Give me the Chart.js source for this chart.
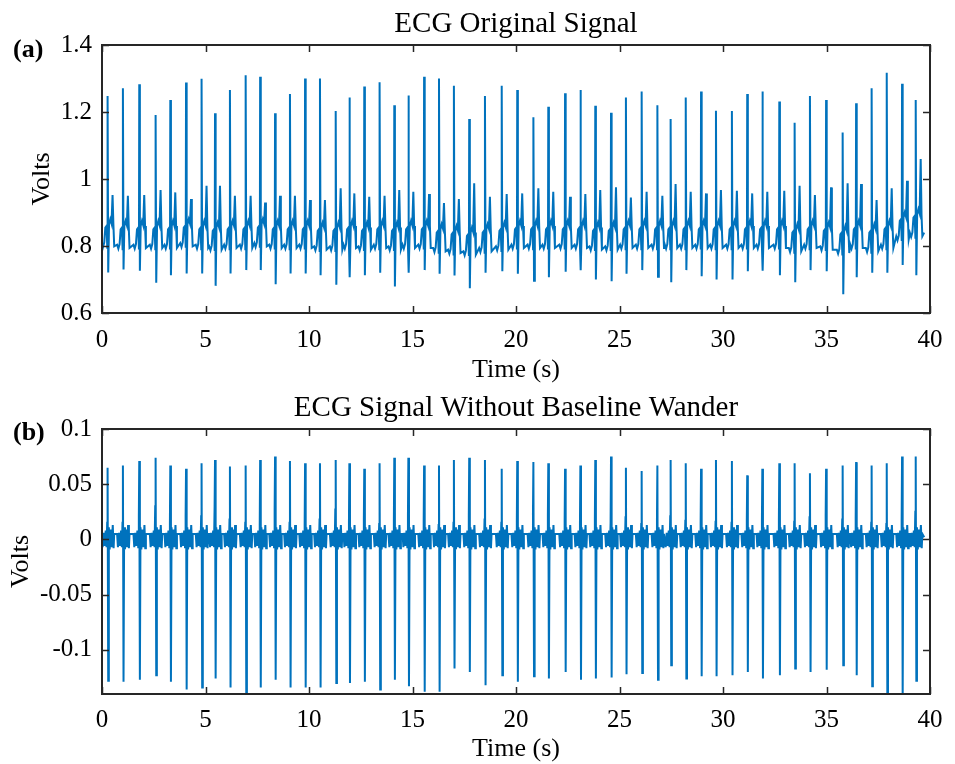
<!DOCTYPE html>
<html lang="en">
<head>
<meta charset="UTF-8">
<title>ECG Original Signal / ECG Signal Without Baseline Wander</title>
<script src="https://cdn.jsdelivr.net/npm/chart.js"></script>
<style>
  body { margin: 0; background: #fff; }
  #wrap { position: relative; width: 955px; height: 764px; font-family: 'Liberation Serif', 'Times New Roman', serif; }
  canvas { position: absolute; left: 0; }
  .panel { position: absolute; left: 13px; font-weight: bold; font-size: 26px; line-height: 30px; color: #000; }
</style>
</head>
<body>
<div id="wrap">
  <canvas id="chartA" width="955" height="385" style="top:0"></canvas>
  <canvas id="chartB" width="955" height="379" style="top:385px"></canvas>
  <div class="panel" style="top:34px">(a)</div>
  <div class="panel" style="top:417px">(b)</div>
</div>
<script>
// R-peak times (s)
const beatTimes = [0.27, 1.01, 1.80, 2.59, 3.30, 4.06, 4.81, 5.46, 6.18, 6.94, 7.64, 8.36, 9.08, 9.81,
  10.53, 11.29, 11.95, 12.67, 13.41, 14.12, 14.80, 15.56, 16.28, 17.00, 17.74, 18.50, 19.31,
  20.06, 20.84, 21.56, 22.37, 23.11, 23.83, 24.59, 25.31, 26.07, 26.83, 27.47, 28.20, 28.94, 29.66,
  30.43, 31.17, 31.90, 32.72, 33.46, 34.20, 34.98, 35.78, 36.43, 37.18, 37.91, 38.65, 39.31];

// (a) original signal, volts
const rPeakA = [1.248, 1.271, 1.283, 1.191, 1.236, 1.288, 1.299, 1.196, 1.266, 1.310, 1.305, 1.196, 1.254, 1.300,
  1.300, 1.203, 1.243, 1.276, 1.289, 1.220, 1.249, 1.305, 1.300, 1.278, 1.179, 1.248, 1.278,
  1.266, 1.184, 1.216, 1.256, 1.266, 1.219, 1.198, 1.243, 1.261, 1.220, 1.179, 1.243, 1.261, 1.204,
  1.203, 1.254, 1.261, 1.231, 1.168, 1.248, 1.236, 1.139, 1.226, 1.271, 1.317, 1.284, 1.236];
const sTroughA = [0.721, 0.730, 0.726, 0.690, 0.713, 0.718, 0.718, 0.681, 0.718, 0.728, 0.728, 0.686, 0.718, 0.718,
  0.713, 0.684, 0.707, 0.713, 0.720, 0.679, 0.720, 0.728, 0.717, 0.712, 0.674, 0.720, 0.725,
  0.717, 0.696, 0.707, 0.723, 0.728, 0.700, 0.695, 0.717, 0.728, 0.708, 0.692, 0.728, 0.710, 0.700,
  0.700, 0.725, 0.726, 0.713, 0.692, 0.728, 0.725, 0.656, 0.707, 0.720, 0.720, 0.743, 0.713];
const tWaveA = [0.952, 0.950, 0.952, 0.967, 0.960, 0.940, 0.980, 0.980, 0.950, 0.950, 0.930, 0.950, 0.950, 0.937,
  0.937, 0.972, 0.957, 0.947, 0.950, 0.967, 0.962, 0.955, 0.928, 0.940, 0.987, 0.947, 0.955,
  0.957, 0.972, 0.962, 0.947, 0.955, 0.967, 0.975, 0.945, 0.962, 0.950, 0.985, 0.962, 0.957, 0.967,
  0.965, 0.957, 0.962, 0.965, 0.980, 0.952, 0.975, 0.987, 0.985, 0.937, 0.972, 0.995, 1.060];
const baseA = [0.805, 0.800, 0.800, 0.800, 0.800, 0.805, 0.800, 0.795, 0.800, 0.800, 0.805, 0.800, 0.800, 0.800,
  0.795, 0.795, 0.800, 0.795, 0.800, 0.795, 0.800, 0.800, 0.790, 0.785, 0.780, 0.790, 0.795,
  0.800, 0.800, 0.800, 0.800, 0.800, 0.795, 0.795, 0.800, 0.800, 0.800, 0.800, 0.800, 0.800, 0.800,
  0.800, 0.800, 0.800, 0.800, 0.790, 0.800, 0.795, 0.785, 0.800, 0.790, 0.800, 0.825, 0.835];

// (b) signal without baseline wander, volts
const rPeakB = [0.065, 0.067, 0.071, 0.074, 0.067, 0.064, 0.069, 0.072, 0.066, 0.067, 0.072, 0.075, 0.071, 0.069,
  0.069, 0.072, 0.069, 0.064, 0.069, 0.074, 0.074, 0.067, 0.067, 0.072, 0.074, 0.072, 0.064, 0.071,
  0.070, 0.069, 0.064, 0.067, 0.072, 0.075, 0.065, 0.062, 0.067, 0.072, 0.069, 0.064, 0.072,
  0.071, 0.058, 0.064, 0.069, 0.069, 0.060, 0.064, 0.067, 0.070, 0.067, 0.069, 0.075, 0.075];
const sTroughB = [-0.128, -0.129, -0.127, -0.123, -0.129, -0.136, -0.134, -0.126, -0.134, -0.142, -0.134, -0.127, -0.134, -0.134,
  -0.134, -0.130, -0.130, -0.129, -0.136, -0.127, -0.133, -0.138, -0.138, -0.117, -0.120, -0.132, -0.123, -0.129,
  -0.124, -0.126, -0.120, -0.127, -0.126, -0.125, -0.122, -0.121, -0.127, -0.114, -0.126, -0.124, -0.124,
  -0.123, -0.120, -0.126, -0.123, -0.117, -0.120, -0.118, -0.114, -0.123, -0.133, -0.145, -0.145, -0.128];
const bumpB = [0.015, 0.015, 0.021, 0.030, 0.014, 0.021, 0.021, 0.030, 0.018, 0.015, 0.013, 0.027, 0.015, 0.013,
  0.018, 0.027, 0.015, 0.018, 0.014, 0.016, 0.021, 0.015, 0.013, 0.015, 0.021, 0.018, 0.015, 0.016,
  0.024, 0.022, 0.016, 0.015, 0.018, 0.015, 0.020, 0.014, 0.018, 0.021, 0.017, 0.015, 0.016,
  0.015, 0.017, 0.016, 0.018, 0.016, 0.020, 0.022, 0.018, 0.019, 0.015, 0.014, 0.017, 0.025];

const endTime = 39.72;
const endA = 0.84;
const endB = 0.002;

const xTicks = [0, 5, 10, 15, 20, 25, 30, 35, 40];
const xTickLabels = ['0', '5', '10', '15', '20', '25', '30', '35', '40'];
const yTicksA = [0.6, 0.8, 1.0, 1.2, 1.4];
const yTickLabelsA = ['0.6', '0.8', '1', '1.2', '1.4'];
const yTicksB = [-0.1, -0.05, 0, 0.05, 0.1];
const yTickLabelsB = ['-0.1', '-0.05', '0', '0.05', '0.1'];

const FONT = "'Liberation Serif', 'Times New Roman', serif";
const LINE = '#0072BD';
const AXIS = '#262626';

// one beat = a few samples around the R peak
function buildA() {
  const pts = [];
  beatTimes.forEach((t, i) => {
    const b = baseA[i];
    pts.push(
      {x: t - 0.28, y: b + 0.004}, {x: t - 0.22, y: b - 0.008}, {x: t - 0.16, y: b + 0.006},
      {x: t - 0.11, y: b + 0.05}, {x: t - 0.05, y: b + 0.055}, {x: t - 0.015, y: b - 0.01},
      {x: t, y: rPeakA[i]}, {x: t + 0.03, y: sTroughA[i]},
      {x: t + 0.07, y: b + 0.06}, {x: t + 0.13, y: b + 0.075}, {x: t + 0.19, y: b + 0.062},
      {x: t + 0.24, y: tWaveA[i]}, {x: t + 0.28, y: b + 0.06}, {x: t + 0.32, y: b - 0.006}
    );
  });
  pts.push({x: endTime, y: endA});
  return pts;
}

function buildB() {
  const pts = [];
  beatTimes.forEach((t, i) => {
    pts.push(
      {x: t - 0.28, y: 0.005}, {x: t - 0.24, y: -0.007}, {x: t - 0.19, y: 0.006},
      {x: t - 0.14, y: -0.006}, {x: t - 0.09, y: 0.008}, {x: t - 0.05, y: -0.007},
      {x: t - 0.02, y: bumpB[i]}, {x: t, y: rPeakB[i]}, {x: t + 0.03, y: sTroughB[i]},
      {x: t + 0.06, y: 0.011}, {x: t + 0.10, y: -0.009}, {x: t + 0.15, y: 0.009},
      {x: t + 0.20, y: -0.007}, {x: t + 0.25, y: 0.013}, {x: t + 0.29, y: -0.008}, {x: t + 0.32, y: 0.005}
    );
  });
  pts.push({x: endTime, y: endB});
  return pts;
}

// box around the axes with inward ticks, like the original figure
const boxPlugin = {
  id: 'box',
  afterDraw(chart) {
    const {ctx, chartArea: a, scales: {x, y}} = chart;
    ctx.save();
    ctx.strokeStyle = AXIS;
    ctx.lineWidth = 1.5;
    ctx.beginPath();
    x.ticks.forEach(t => {
      const px = Math.round(x.getPixelForValue(t.value)) + 0.5;
      ctx.moveTo(px, a.bottom); ctx.lineTo(px, a.bottom - 7);
      ctx.moveTo(px, a.top); ctx.lineTo(px, a.top + 7);
    });
    y.ticks.forEach(t => {
      const py = Math.round(y.getPixelForValue(t.value)) + 0.5;
      ctx.moveTo(a.left, py); ctx.lineTo(a.left + 7, py);
      ctx.moveTo(a.right, py); ctx.lineTo(a.right - 7, py);
    });
    ctx.stroke();
    ctx.lineWidth = 2;
    ctx.strokeRect(a.left, a.top, a.right - a.left, a.bottom - a.top);
    ctx.restore();
  }
};

function makeChart(id, opts) {
  return new Chart(document.getElementById(id), {
    type: 'line',
    data: {
      datasets: [{
        data: opts.data,
        borderColor: LINE,
        borderWidth: 2,
        pointRadius: 0,
        tension: 0
      }]
    },
    options: {
      responsive: false,
      animation: false,
      parsing: false,
      layout: {padding: {left: 0, right: 25, top: 0, bottom: 0}},
      plugins: {
        legend: {display: false},
        tooltip: {enabled: false},
        title: {
          display: true,
          text: opts.title,
          fullSize: false,
          color: '#000',
          font: {family: FONT, size: 29, weight: 'normal', lineHeight: 42 / 29},
          padding: {top: opts.titleTop, bottom: 0}
        }
      },
      scales: {
        x: {
          type: 'linear',
          min: 0,
          max: 40,
          afterFit: s => { s.height = opts.xAxisHeight; },
          afterBuildTicks: s => { s.ticks = xTicks.map(v => ({value: v})); },
          grid: {display: false, drawTicks: false},
          border: {display: false},
          ticks: {
            autoSkip: false, maxRotation: 0, padding: opts.xTickPad, color: '#000',
            font: {family: FONT, size: 25},
            callback: (v, i) => xTickLabels[i]
          },
          title: {
            display: true, text: 'Time (s)', color: '#000',
            font: {family: FONT, size: 26, lineHeight: 30 / 26},
            padding: {top: 0, bottom: 0}
          }
        },
        y: {
          min: opts.yMin,
          max: opts.yMax,
          afterFit: s => { s.width = 102; },
          afterBuildTicks: s => { s.ticks = opts.yTicks.map(v => ({value: v})); },
          grid: {display: false, drawTicks: false},
          border: {display: false},
          ticks: {
            autoSkip: false, padding: 10, color: '#000',
            font: {family: FONT, size: 25},
            callback: (v, i) => opts.yLabels[i]
          },
          title: {
            display: true, text: 'Volts', color: '#000',
            font: {family: FONT, size: 26, lineHeight: 30 / 26},
            padding: {top: opts.yTitlePad, bottom: 0}
          }
        }
      }
    },
    plugins: [boxPlugin]
  });
}

makeChart('chartA', {
  data: buildA(), title: 'ECG Original Signal', titleTop: 3,
  xAxisHeight: 72, xTickPad: 12,
  yMin: 0.6, yMax: 1.4, yTicks: yTicksA, yLabels: yTickLabelsA, yTitlePad: 27.5
});

makeChart('chartB', {
  data: buildB(), title: 'ECG Signal Without Baseline Wander', titleTop: 2,
  xAxisHeight: 70, xTickPad: 11,
  yMin: -0.14, yMax: 0.1, yTicks: yTicksB, yLabels: yTickLabelsB, yTitlePad: 6.5
});
</script>
</body>
</html>
